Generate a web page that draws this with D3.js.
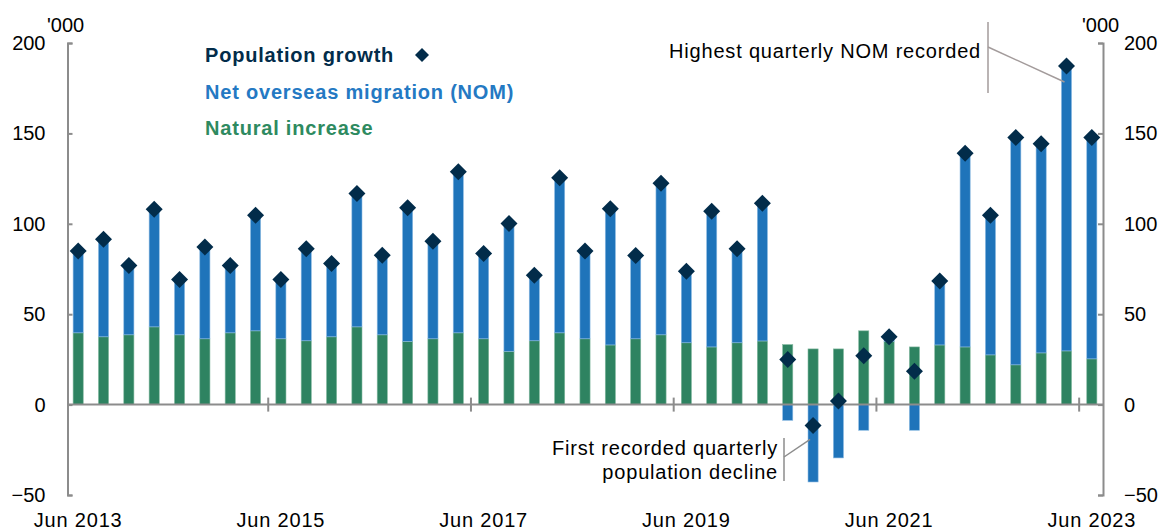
<!DOCTYPE html>
<html lang="en">
<head>
  <meta charset="UTF-8">
  <title>Population growth components</title>
  <script src="https://d3js.org/d3.v7.min.js"></script>
  <style>
    body, html {
      margin: 0;
      padding: 0;
      background: #ffffff;
      overflow: hidden;
    }
    svg {
      display: block;
      font-family: "Liberation Sans", Arial, sans-serif;
    }
    .axis path, .axis line {
      stroke: #8c8c8c;
      stroke-width: 2px;
    }
    .axis text {
      font-size: 20px;
      fill: #000;
    }
  </style>
</head>
<body>
  <svg id="chart" width="1168" height="531"></svg>

  <script>
    // Quarters, Jun 2013 - Jun 2023
    const quarters = [
      "Jun-13", "Sep-13", "Dec-13", "Mar-14", "Jun-14", "Sep-14", "Dec-14", "Mar-15",
      "Jun-15", "Sep-15", "Dec-15", "Mar-16", "Jun-16", "Sep-16", "Dec-16", "Mar-17",
      "Jun-17", "Sep-17", "Dec-17", "Mar-18", "Jun-18", "Sep-18", "Dec-18", "Mar-19",
      "Jun-19", "Sep-19", "Dec-19", "Mar-20", "Jun-20", "Sep-20", "Dec-20", "Mar-21",
      "Jun-21", "Sep-21", "Dec-21", "Mar-22", "Jun-22", "Sep-22", "Dec-22", "Mar-23",
      "Jun-23"
    ];

    // '000 persons
    const naturalIncrease = [
      39.7, 37.5, 38.6, 43.0, 38.6, 36.4, 39.7, 40.8,
      36.4, 35.3, 37.5, 43.0, 38.6, 35.0, 36.4, 39.7,
      36.4, 29.5, 35.3, 39.7, 36.4, 33.0, 36.4, 38.6,
      34.2, 31.9, 34.2, 35.2, 33.2, 30.8, 30.8, 40.8,
      35.0, 31.9, 33.0, 31.9, 27.5, 22.0, 28.6, 29.7,
      25.3
    ];

    const netOverseasMigration = [
      45.3, 53.9, 38.4, 65.0, 30.6, 50.7, 37.3, 63.9,
      32.8, 50.9, 40.6, 73.8, 44.0, 73.9, 54.0, 89.1,
      47.2, 70.7, 36.3, 85.8, 48.5, 75.3, 46.1, 83.8,
      39.6, 75.1, 52.0, 76.1, -8.7, -42.8, -29.5, -14.2,
      2.5, -14.2, 35.3, 107.1, 77.2, 125.7, 115.7, 157.6,
      122.4
    ];

    const populationGrowth = [
      85.0, 91.4, 77.0, 108.0, 69.2, 87.1, 77.0, 104.7,
      69.2, 86.2, 78.1, 116.8, 82.6, 108.9, 90.4, 128.8,
      83.6, 100.2, 71.6, 125.5, 84.9, 108.3, 82.5, 122.4,
      73.8, 107.0, 86.2, 111.3, 25.0, -11.5, 2.0, 27.0,
      37.5, 18.5, 68.3, 139.0, 104.7, 147.7, 144.3, 187.3,
      147.7
    ];

    const xTickLabels = ["Jun 2013", "Jun 2015", "Jun 2017", "Jun 2019", "Jun 2021", "Jun 2023"];
    const xTickQuarters = ["Jun-13", "Jun-15", "Jun-17", "Jun-19", "Jun-21", "Jun-23"];
    const yTicks = [-50, 0, 50, 100, 150, 200];

    const seriesNames = ["Population growth", "Net overseas migration (NOM)", "Natural increase"];

    const colors = {
      nom: "#1f74ba",
      nomEdge: "#8dbbe3",
      natural: "#2e8361",
      naturalEdge: "#84b9a0",
      growth: "#022c4a"
    };

    const svg = d3.select("#chart");
    const plotLeft = 67.5, plotRight = 1103, plotTop = 43, plotBottom = 495;

    const x = d3.scaleBand()
      .domain(quarters)
      .range([65.5, 1104.5])
      .paddingInner(0.6)
      .paddingOuter(0.3);

    const y = d3.scaleLinear()
      .domain([-50, 200])
      .range([plotBottom, plotTop]);

    const bw = x.bandwidth();
    const step = x.step();

    // bars
    const rows = quarters.map((q, i) => ({
      q: q,
      ni: naturalIncrease[i],
      nom: netOverseasMigration[i],
      pg: populationGrowth[i]
    }));

    svg.append("g")
      .selectAll("rect")
      .data(rows)
      .join("rect")
      .attr("x", d => x(d.q))
      .attr("width", bw)
      .attr("y", d => y(d.ni))
      .attr("height", d => y(0) - y(d.ni))
      .attr("fill", colors.natural)
      .attr("stroke", colors.naturalEdge)
      .attr("stroke-width", 0.6);

    svg.append("g")
      .selectAll("rect")
      .data(rows)
      .join("rect")
      .attr("x", d => x(d.q))
      .attr("width", bw)
      .attr("y", d => d.nom >= 0 ? y(d.ni + d.nom) : y(0))
      .attr("height", d => Math.abs(y(0) - y(d.nom)))
      .attr("fill", colors.nom)
      .attr("stroke", colors.nomEdge)
      .attr("stroke-width", 0.6);

    // axes
    const yLeft = d3.axisLeft(y)
      .tickValues(yTicks)
      .tickSizeInner(-5)
      .tickSizeOuter(-5)
      .tickPadding(22)
      .tickFormat(d3.format("d"));

    svg.append("g")
      .attr("class", "axis")
      .attr("transform", `translate(${plotLeft},0)`)
      .call(yLeft);

    const yRight = d3.axisRight(y)
      .tickValues(yTicks)
      .tickSizeInner(-5)
      .tickSizeOuter(-5)
      .tickPadding(21)
      .tickFormat(d3.format("d"));

    svg.append("g")
      .attr("class", "axis")
      .attr("transform", `translate(${plotRight},0)`)
      .call(yRight);

    // x axis at zero
    const xAxis = svg.append("g").attr("class", "axis");
    xAxis.append("line")
      .attr("x1", plotLeft).attr("x2", plotRight)
      .attr("y1", y(0)).attr("y2", y(0));

    xAxis.selectAll("line.tick")
      .data(xTickQuarters.slice(1))
      .join("line")
      .attr("class", "tick")
      .attr("x1", d => x(d) + bw / 2 - step / 2)
      .attr("x2", d => x(d) + bw / 2 - step / 2)
      .attr("y1", y(0) - 7)
      .attr("y2", y(0) + 7);

    xAxis.selectAll("text")
      .data(xTickQuarters)
      .join("text")
      .attr("x", d => x(d) + bw / 2)
      .attr("y", 527)
      .attr("text-anchor", "middle")
      .attr("letter-spacing", 0.8)
      .text((d, i) => xTickLabels[i]);

    // units
    svg.append("text")
      .attr("x", 47).attr("y", 32)
      .attr("font-size", 20)
      .text("'000");
    svg.append("text")
      .attr("x", 1082).attr("y", 32)
      .attr("font-size", 20)
      .text("'000");

    // population growth markers
    const diamond = r => `M0,${-r}L${r},0L0,${r}L${-r},0Z`;

    svg.append("g")
      .selectAll("path")
      .data(rows)
      .join("path")
      .attr("transform", d => `translate(${x(d.q) + bw / 2},${y(d.pg)})`)
      .attr("d", diamond(8.5))
      .attr("fill", colors.growth);

    // legend
    const legendColors = [colors.growth, "#2479c3", "#2e8a60"];
    const legend = svg.append("g").attr("font-weight", "bold").attr("font-size", 20).attr("letter-spacing", 0.8);
    seriesNames.forEach((name, i) => {
      legend.append("text")
        .attr("x", 205)
        .attr("y", 62 + i * 36.5)
        .attr("fill", legendColors[i])
        .text(name);
    });
    legend.append("path")
      .attr("transform", "translate(422,55)")
      .attr("d", diamond(7))
      .attr("fill", colors.growth);

    // annotations
    const ann = svg.append("g").attr("font-size", 20).attr("letter-spacing", 0.8).attr("fill", "#000");
    ann.append("text")
      .attr("x", 981).attr("y", 58)
      .attr("text-anchor", "end")
      .text("Highest quarterly NOM recorded");
    ann.append("line")
      .attr("x1", 988).attr("x2", 988).attr("y1", 22).attr("y2", 93)
      .attr("stroke", "#a39b9b").attr("stroke-width", 1.5);
    ann.append("line")
      .attr("x1", 988).attr("y1", 47)
      .attr("x2", x("Mar-23") + bw / 2 - 2).attr("y2", y(populationGrowth[39]) + 16)
      .attr("stroke", "#a39b9b").attr("stroke-width", 1.5);

    ann.append("text")
      .attr("x", 778).attr("y", 455)
      .attr("text-anchor", "end")
      .text("First recorded quarterly");
    ann.append("text")
      .attr("x", 778).attr("y", 479)
      .attr("text-anchor", "end")
      .text("population decline");
    ann.append("line")
      .attr("x1", 784).attr("x2", 784).attr("y1", 438).attr("y2", 481)
      .attr("stroke", "#8c8c8c").attr("stroke-width", 1.5);
    ann.append("line")
      .attr("x1", 784).attr("y1", 457)
      .attr("x2", x("Sep-20") + bw / 2 - 3).attr("y2", y(populationGrowth[29]) + 14)
      .attr("stroke", "#8c8c8c").attr("stroke-width", 1.5);
  </script>
</body>
</html>
